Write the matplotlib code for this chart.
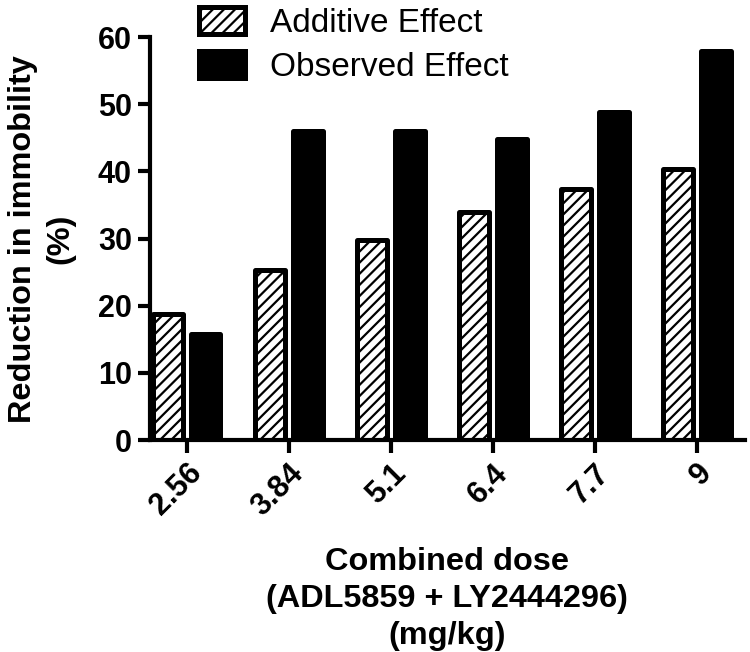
import numpy as np
import matplotlib
matplotlib.use("Agg")
import matplotlib.pyplot as plt

# --- dose response: additive vs observed effect ---

doses = ["2.56", "3.84", "5.1", "6.4", "7.7", "9"]
additive = [18.8, 25.3, 29.8, 34.0, 37.4, 40.4]
observed = [15.8, 46.0, 46.0, 44.9, 48.9, 58.0]

plt.rcParams['font.family'] = ['Liberation Sans', 'DejaVu Sans']
plt.rcParams['hatch.linewidth'] = 1.6

fig = plt.figure(figsize=(7.5, 6.52), dpi=100)
ax = fig.add_axes([0.2, 0.325, 0.793, 0.618])

x = np.arange(len(doses))
w = 0.29
off = 0.186
b1 = ax.bar(x - off, additive, w, color='white', edgecolor='black', hatch='///',
            linewidth=3.6, joinstyle='round', label='Additive Effect')
b2 = ax.bar(x + off, observed, w, color='black', edgecolor='black',
            linewidth=3.6, joinstyle='round', label='Observed Effect')

ax.set_xlim(-0.36, 5.47)
ax.set_ylim(0, 60)
ax.set_yticks(range(0, 61, 10))
ax.set_xticks(x)
ax.set_xticklabels(doses, rotation=45, ha='right', rotation_mode='anchor',
                   fontsize=22, fontweight='bold')
for lab in ax.get_yticklabels():
    lab.set_fontsize(22)
    lab.set_fontweight('bold')

for s in ['top', 'right']:
    ax.spines[s].set_visible(False)
for s in ['left', 'bottom']:
    ax.spines[s].set_linewidth(3)
ax.tick_params(length=9, width=3, pad=4)

ax.set_ylabel("Reduction in immobility\n(%)", fontsize=23.4, fontweight='bold',
              linespacing=1.3)
ax.yaxis.set_label_coords(-0.126, 0.5)
ax.set_xlabel("Combined dose\n(ADL5859 + LY2444296)\n(mg/kg)", fontsize=23.4,
              fontweight='bold', linespacing=1.32, labelpad=18)

fig.legend(handles=[b1, b2], loc='upper left', bbox_to_anchor=(0.247, 1.01),
           frameon=False, fontsize=24, handlelength=1.38, handleheight=0.87,
           handletextpad=0.75, labelspacing=0.35, borderaxespad=0)

fig.savefig("out.png", dpi=100)
